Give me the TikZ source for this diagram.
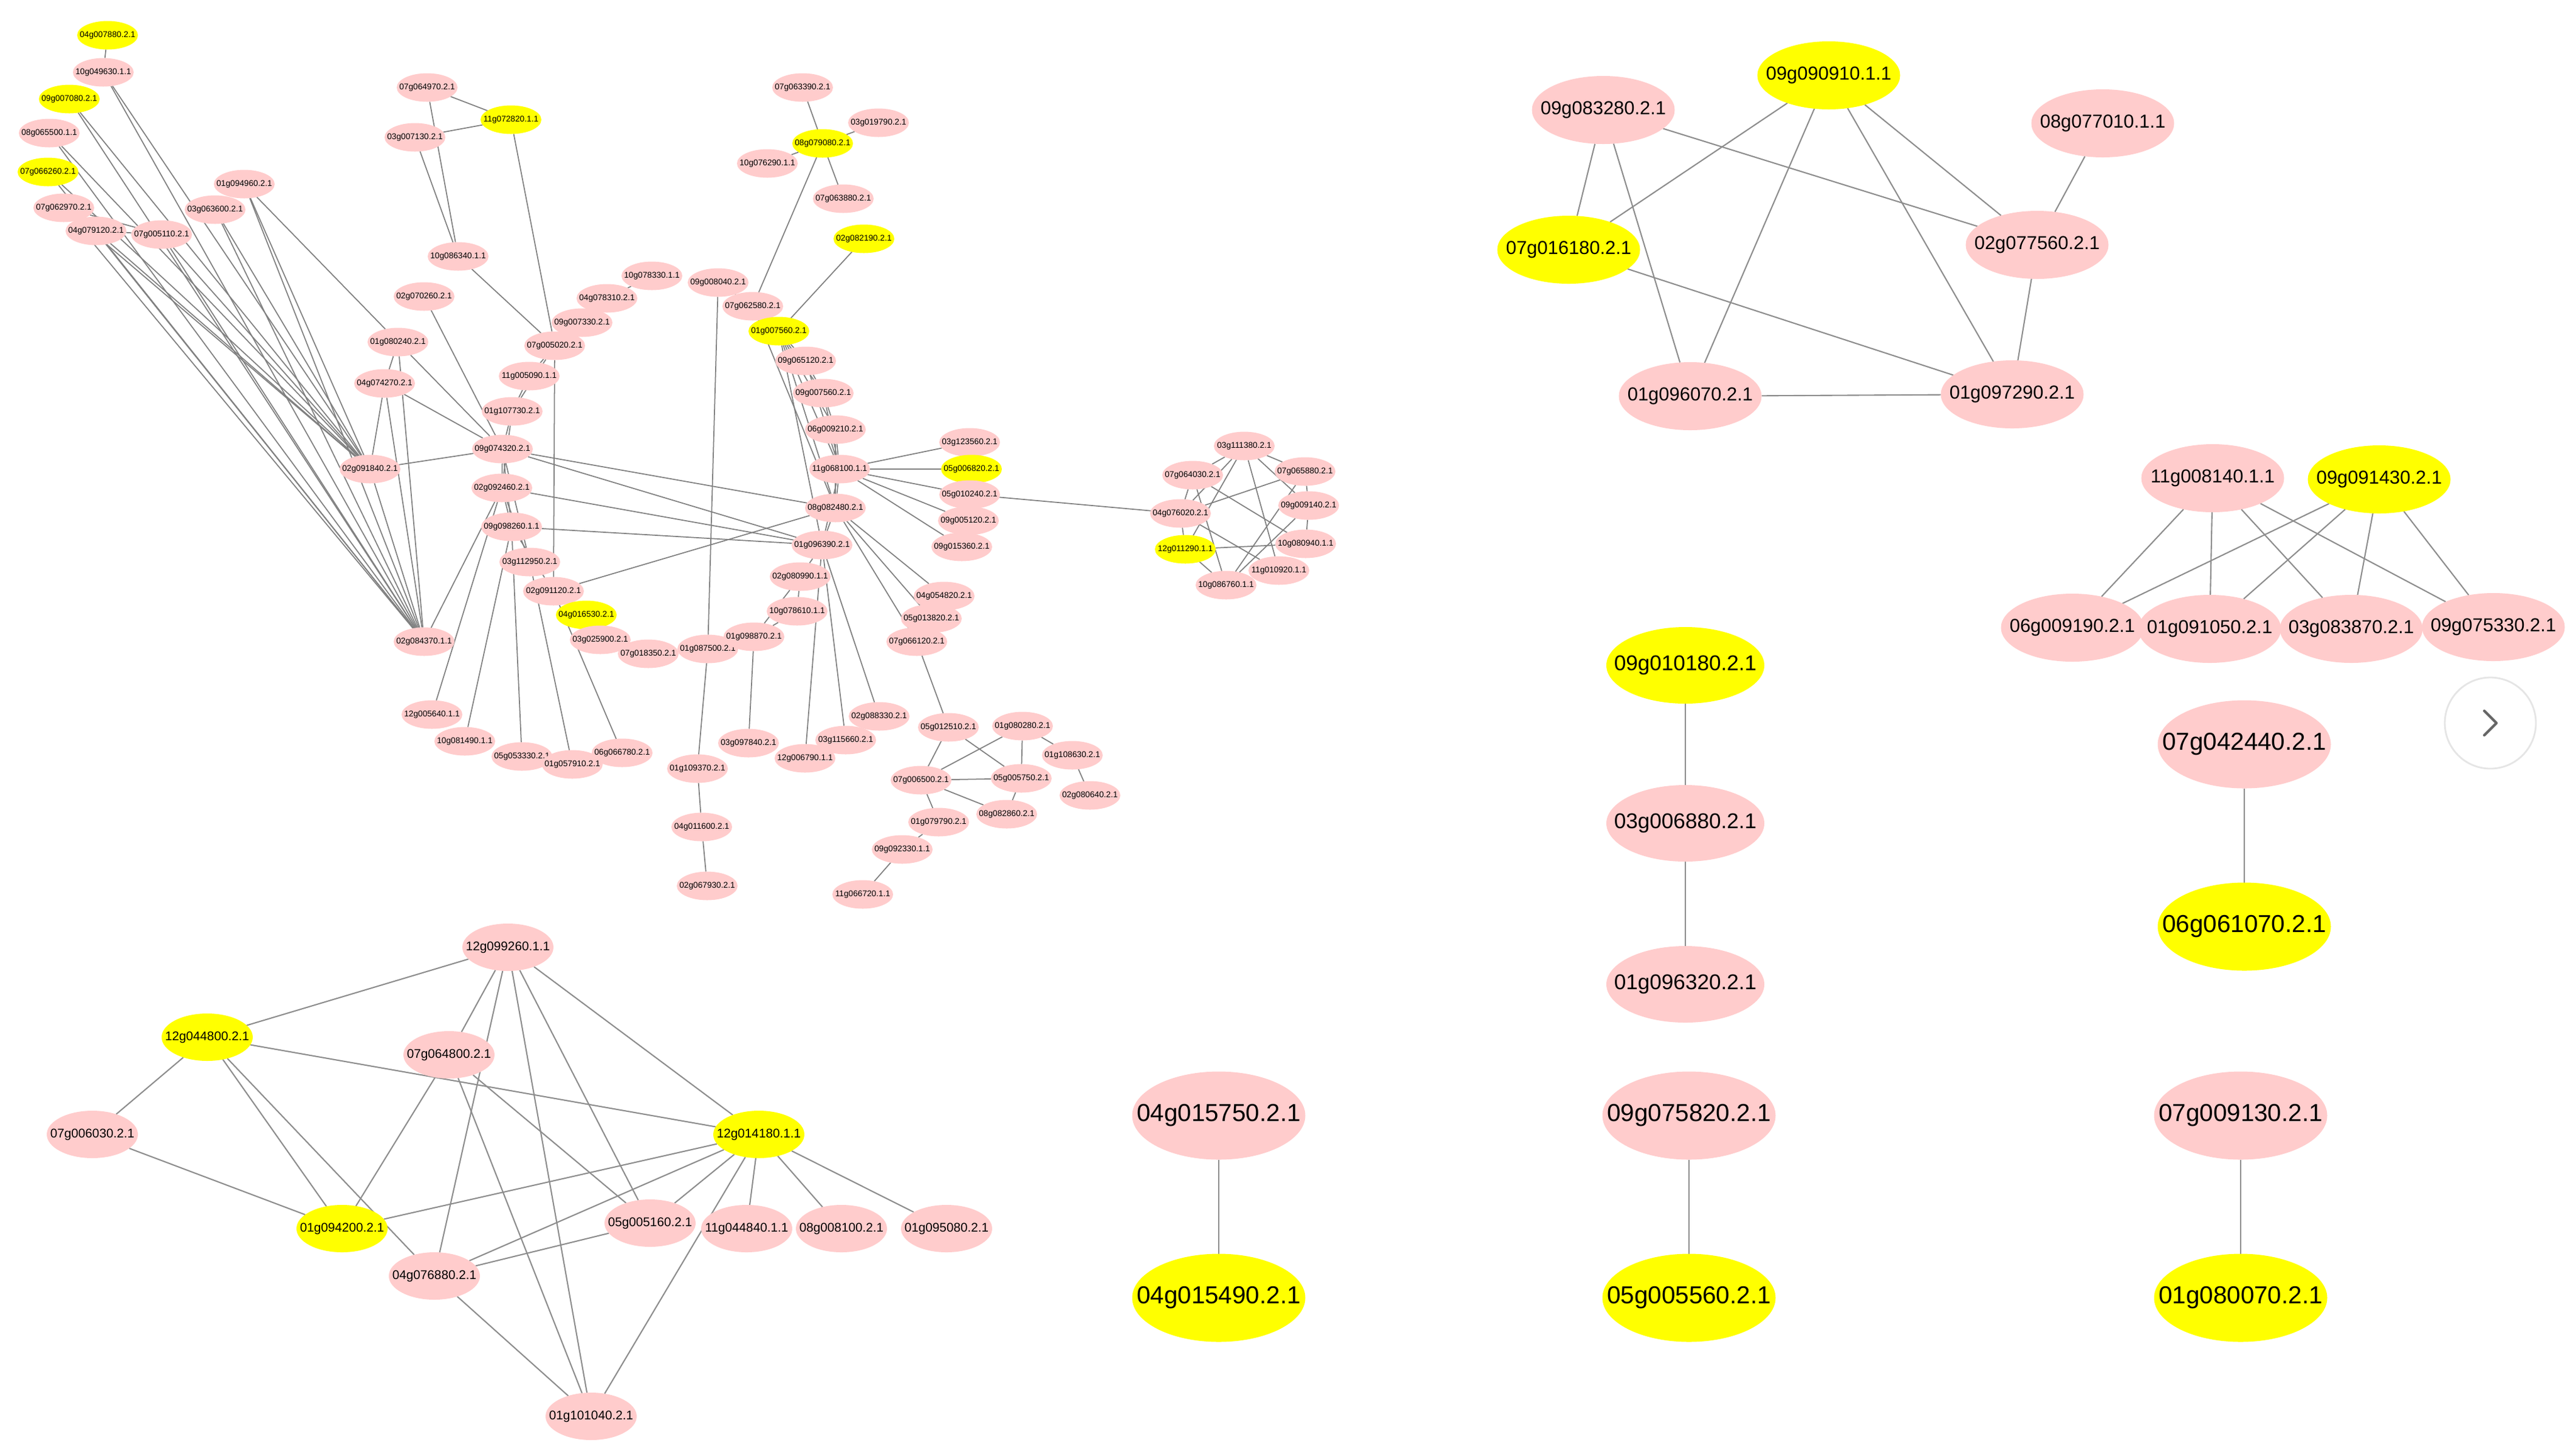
\documentclass[tikz,border=0pt]{standalone}
\usepackage{fontspec}
\setmainfont{Liberation Sans}
\usetikzlibrary{shapes.geometric,backgrounds}
\definecolor{pnk}{RGB}{255,204,204}
\definecolor{yel}{RGB}{255,255,0}
\definecolor{edg}{RGB}{128,128,128}

\begin{document}
\begin{tikzpicture}[
    gene/.style={ellipse, draw=none, fill=#1, inner xsep=-0.6cm, inner ysep=-0.1cm, outer sep=0pt},
    gene/.default=pnk,
    tn/.style={gene=#1, minimum width=1.0cm, minimum height=0.47cm, font=\fontsize{3.9}{4}\selectfont},
    tn/.default=pnk,
    ln/.style={gene=#1, minimum width=1.5cm, minimum height=0.78cm, font=\fontsize{5.9}{6}\selectfont},
    ln/.default=pnk,
    mn/.style={gene=#1, minimum width=2.35cm, minimum height=1.12cm, font=\fontsize{8.8}{9}\selectfont},
    mn/.default=pnk,
    bn/.style={gene=#1, minimum width=2.6cm, minimum height=1.26cm, font=\fontsize{10}{11}\selectfont},
    bn/.default=pnk,
    xn/.style={gene=#1, minimum width=2.85cm, minimum height=1.45cm, font=\fontsize{11.5}{12}\selectfont},
    xn/.default=pnk,
    edge/.style={draw=edg, line width=0.5pt},
    bigedge/.style={draw=edg!90, line width=0.6pt},
]
    \useasboundingbox (0,0) rectangle (42.4,-23.92);

    % Large network, upper left
    \node[tn=yel] (g04g007880) at (1.77,-0.58) {04g007880.2.1};
    \node[tn] (g10g049630) at (1.70,-1.19) {10g049630.1.1};
    \node[tn=yel] (g09g007080) at (1.14,-1.63) {09g007080.2.1};
    \node[tn] (g08g065500) at (0.81,-2.19) {08g065500.1.1};
    \node[tn=yel] (g07g066260) at (0.79,-2.83) {07g066260.2.1};
    \node[tn] (g07g062970) at (1.05,-3.42) {07g062970.2.1};
    \node[tn] (g04g079120) at (1.58,-3.80) {04g079120.2.1};
    \node[tn] (g07g005110) at (2.66,-3.86) {07g005110.2.1};
    \node[tn] (g03g063600) at (3.54,-3.45) {03g063600.2.1};
    \node[tn] (g01g094960) at (4.02,-3.03) {01g094960.2.1};
    \node[tn] (g07g064970) at (7.03,-1.44) {07g064970.2.1};
    \node[tn] (g03g007130) at (6.83,-2.26) {03g007130.2.1};
    \node[tn=yel] (g11g072820) at (8.41,-1.97) {11g072820.1.1};
    \node[tn] (g10g086340) at (7.54,-4.22) {10g086340.1.1};
    \node[tn] (g10g078330) at (10.73,-4.54) {10g078330.1.1};
    \node[tn] (g04g078310) at (9.99,-4.91) {04g078310.2.1};
    \node[tn] (g09g007330) at (9.58,-5.31) {09g007330.2.1};
    \node[tn] (g07g005020) at (9.13,-5.69) {07g005020.2.1};
    \node[tn] (g02g070260) at (6.98,-4.88) {02g070260.2.1};
    \node[tn] (g01g080240) at (6.55,-5.63) {01g080240.2.1};
    \node[tn] (g09g008040) at (11.82,-4.65) {09g008040.2.1};
    \node[tn] (g07g062580) at (12.39,-5.04) {07g062580.2.1};
    \node[tn=yel] (g01g007560) at (12.82,-5.45) {01g007560.2.1};
    \node[tn] (g07g063390) at (13.21,-1.44) {07g063390.2.1};
    \node[tn] (g03g019790) at (14.46,-2.02) {03g019790.2.1};
    \node[tn=yel] (g08g079080) at (13.54,-2.36) {08g079080.2.1};
    \node[tn] (g10g076290) at (12.63,-2.69) {10g076290.1.1};
    \node[tn] (g07g063880) at (13.88,-3.27) {07g063880.2.1};
    \node[tn=yel] (g02g082190) at (14.22,-3.93) {02g082190.2.1};
    \node[tn] (g04g074270) at (6.33,-6.31) {04g074270.2.1};
    \node[tn] (g11g005090) at (8.71,-6.19) {11g005090.1.1};
    \node[tn] (g01g107730) at (8.43,-6.77) {01g107730.2.1};
    \node[tn] (g09g074320) at (8.27,-7.39) {09g074320.2.1};
    \node[tn] (g02g091840) at (6.09,-7.72) {02g091840.2.1};
    \node[tn] (g02g092460) at (8.26,-8.03) {02g092460.2.1};
    \node[tn] (g09g098260) at (8.42,-8.67) {09g098260.1.1};
    \node[tn] (g03g112950) at (8.72,-9.25) {03g112950.2.1};
    \node[tn] (g02g091120) at (9.11,-9.73) {02g091120.2.1};
    \node[tn=yel] (g04g016530) at (9.65,-10.12) {04g016530.2.1};
    \node[tn] (g09g065120) at (13.26,-5.94) {09g065120.2.1};
    \node[tn] (g09g007560) at (13.55,-6.47) {09g007560.2.1};
    \node[tn] (g06g009210) at (13.75,-7.07) {06g009210.2.1};
    \node[tn] (g11g068100) at (13.82,-7.72) {11g068100.1.1};
    \node[tn] (g03g123560) at (15.96,-7.28) {03g123560.2.1};
    \node[tn=yel] (g05g006820) at (15.99,-7.72) {05g006820.2.1};
    \node[tn] (g05g010240) at (15.96,-8.14) {05g010240.2.1};
    \node[tn] (g09g005120) at (15.94,-8.57) {09g005120.2.1};
    \node[tn] (g09g015360) at (15.83,-9.00) {09g015360.2.1};
    \node[tn] (g08g082480) at (13.75,-8.36) {08g082480.2.1};
    \node[tn] (g01g096390) at (13.53,-8.97) {01g096390.2.1};
    \node[tn] (g02g080990) at (13.17,-9.49) {02g080990.1.1};
    \node[tn] (g10g078610) at (13.12,-10.06) {10g078610.1.1};
    \node[tn] (g04g054820) at (15.54,-9.81) {04g054820.2.1};
    \node[tn] (g05g013820) at (15.33,-10.18) {05g013820.2.1};
    \node[tn] (g03g025900) at (9.88,-10.53) {03g025900.2.1};
    \node[tn] (g07g018350) at (10.67,-10.76) {07g018350.2.1};
    \node[tn] (g01g087500) at (11.65,-10.68) {01g087500.2.1};
    \node[tn] (g01g098870) at (12.41,-10.48) {01g098870.2.1};
    \node[tn] (g02g084370) at (6.98,-10.56) {02g084370.1.1};
    \node[tn] (g12g005640) at (7.11,-11.76) {12g005640.1.1};
    \node[tn] (g10g081490) at (7.65,-12.20) {10g081490.1.1};
    \node[tn] (g05g053330) at (8.59,-12.45) {05g053330.2.1};
    \node[tn] (g06g066780) at (10.24,-12.39) {06g066780.2.1};
    \node[tn] (g01g057910) at (9.42,-12.58) {01g057910.2.1};
    \node[tn] (g01g109370) at (11.48,-12.65) {01g109370.2.1};
    \node[tn] (g04g011600) at (11.55,-13.61) {04g011600.2.1};
    \node[tn] (g02g067930) at (11.64,-14.58) {02g067930.2.1};
    \node[tn] (g03g097840) at (12.32,-12.23) {03g097840.2.1};
    \node[tn] (g07g066120) at (15.09,-10.56) {07g066120.2.1};
    \node[tn] (g02g088330) at (14.47,-11.79) {02g088330.2.1};
    \node[tn] (g03g115660) at (13.92,-12.18) {03g115660.2.1};
    \node[tn] (g12g006790) at (13.25,-12.48) {12g006790.1.1};
    \node[tn] (g05g012510) at (15.61,-11.97) {05g012510.2.1};
    \node[tn] (g01g080280) at (16.83,-11.95) {01g080280.2.1};
    \node[tn] (g01g108630) at (17.65,-12.43) {01g108630.2.1};
    \node[tn] (g07g006500) at (15.16,-12.84) {07g006500.2.1};
    \node[tn] (g05g005750) at (16.81,-12.81) {05g005750.2.1};
    \node[tn] (g02g080640) at (17.94,-13.09) {02g080640.2.1};
    \node[tn] (g08g082860) at (16.57,-13.40) {08g082860.2.1};
    \node[tn] (g01g079790) at (15.45,-13.53) {01g079790.2.1};
    \node[tn] (g09g092330) at (14.85,-13.98) {09g092330.1.1};
    \node[tn] (g11g066720) at (14.20,-14.72) {11g066720.1.1};

    % Ring on the right of the large network
    \node[tn] (g03g111380) at (20.48,-7.34) {03g111380.2.1};
    \node[tn] (g07g064030) at (19.63,-7.82) {07g064030.2.1};
    \node[tn] (g07g065880) at (21.48,-7.76) {07g065880.2.1};
    \node[tn] (g04g076020) at (19.43,-8.45) {04g076020.2.1};
    \node[tn] (g09g009140) at (21.54,-8.32) {09g009140.2.1};
    \node[tn=yel] (g12g011290) at (19.51,-9.04) {12g011290.1.1};
    \node[tn] (g10g080940) at (21.49,-8.95) {10g080940.1.1};
    \node[tn] (g11g010920) at (21.05,-9.39) {11g010920.1.1};
    \node[tn] (g10g086760) at (20.18,-9.63) {10g086760.1.1};

    % Network, lower left
    \node[ln] (g12g099260) at (8.36,-15.59) {12g099260.1.1};
    \node[ln=yel] (g12g044800) at (3.41,-17.07) {12g044800.2.1};
    \node[ln] (g07g064800) at (7.39,-17.36) {07g064800.2.1};
    \node[ln] (g07g006030) at (1.52,-18.67) {07g006030.2.1};
    \node[ln=yel] (g12g014180) at (12.49,-18.67) {12g014180.1.1};
    \node[ln=yel] (g01g094200) at (5.63,-20.22) {01g094200.2.1};
    \node[ln] (g05g005160) at (10.70,-20.13) {05g005160.2.1};
    \node[ln] (g11g044840) at (12.29,-20.22) {11g044840.1.1};
    \node[ln] (g08g008100) at (13.85,-20.22) {08g008100.2.1};
    \node[ln] (g01g095080) at (15.58,-20.22) {01g095080.2.1};
    \node[ln] (g04g076880) at (7.15,-21.00) {04g076880.2.1};
    \node[ln] (g01g101040) at (9.73,-23.31) {01g101040.2.1};

    % Network, upper right
    \node[mn] (g09g083280) at (26.39,-1.81) {09g083280.2.1};
    \node[mn=yel] (g09g090910) at (30.10,-1.24) {09g090910.1.1};
    \node[mn] (g08g077010) at (34.61,-2.03) {08g077010.1.1};
    \node[mn=yel] (g07g016180) at (25.82,-4.11) {07g016180.2.1};
    \node[mn] (g02g077560) at (33.53,-4.03) {02g077560.2.1};
    \node[mn] (g01g096070) at (27.82,-6.52) {01g096070.2.1};
    \node[mn] (g01g097290) at (33.12,-6.49) {01g097290.2.1};

    % Two rows
    \node[mn] (g11g008140) at (36.42,-7.87) {11g008140.1.1};
    \node[mn=yel] (g09g091430) at (39.16,-7.89) {09g091430.2.1};
    \node[mn] (g06g009190) at (34.11,-10.33) {06g009190.2.1};
    \node[mn] (g01g091050) at (36.37,-10.35) {01g091050.2.1};
    \node[mn] (g03g083870) at (38.70,-10.35) {03g083870.2.1};
    \node[mn] (g09g075330) at (41.04,-10.32) {09g075330.2.1};

    % Chains and pairs
    \node[bn=yel] (g09g010180) at (27.74,-10.95) {09g010180.2.1};
    \node[bn] (g03g006880) at (27.74,-13.55) {03g006880.2.1};
    \node[bn] (g01g096320) at (27.74,-16.20) {01g096320.2.1};
    \node[xn] (g07g042440) at (36.94,-12.25) {07g042440.2.1};
    \node[xn=yel] (g06g061070) at (36.94,-15.25) {06g061070.2.1};
    \node[xn] (g04g015750) at (20.06,-18.36) {04g015750.2.1};
    \node[xn=yel] (g04g015490) at (20.06,-21.36) {04g015490.2.1};
    \node[xn] (g09g075820) at (27.80,-18.36) {09g075820.2.1};
    \node[xn=yel] (g05g005560) at (27.80,-21.36) {05g005560.2.1};
    \node[xn] (g07g009130) at (36.88,-18.36) {07g009130.2.1};
    \node[xn=yel] (g01g080070) at (36.88,-21.36) {01g080070.2.1};

    % Page button
    \node[circle, draw=gray!20, line width=0.8pt, fill=white, minimum size=1.5cm] (btn) at (40.99,-11.90) {};
    \draw[gray!80!black, line width=1.2pt, line cap=round, line join=round]
        ([xshift=-0.1cm, yshift=0.2cm]btn.center) -- ([xshift=0.1cm]btn.center) -- ([xshift=-0.1cm, yshift=-0.2cm]btn.center);

    % Edges
    \begin{scope}[on background layer]
        \foreach \a/\b in {04g007880/10g049630,
            10g049630/02g091840, 09g007080/02g091840, 08g065500/02g091840, 07g066260/02g091840,
            07g062970/02g091840, 04g079120/02g091840, 07g005110/02g091840, 03g063600/02g091840,
            10g049630/02g084370, 09g007080/02g084370, 08g065500/02g084370, 07g066260/02g084370,
            07g062970/02g084370, 04g079120/02g084370, 07g005110/02g084370, 03g063600/02g084370,
            01g094960/02g084370, 01g094960/02g091840, 01g094960/01g080240,
            04g079120/07g005110, 07g062970/07g005110,
            07g064970/11g072820, 07g064970/10g086340, 03g007130/11g072820, 03g007130/10g086340,
            11g072820/07g005020, 10g086340/07g005020, 02g070260/09g074320,
            01g080240/04g074270, 01g080240/02g084370, 01g080240/09g074320,
            04g074270/02g091840, 04g074270/02g084370, 04g074270/09g074320,
            02g091840/09g074320, 02g091840/02g084370,
            07g005020/11g005090, 07g005020/01g107730, 07g005020/02g091120,
            09g007330/07g005020, 04g078310/09g007330, 10g078330/04g078310,
            11g005090/01g107730, 01g107730/09g074320, 01g107730/02g092460,
            09g074320/02g092460, 09g074320/09g098260, 09g074320/03g112950,
            09g074320/08g082480, 09g074320/01g096390,
            02g092460/09g098260, 02g092460/03g112950, 02g092460/02g084370,
            02g092460/01g096390, 02g092460/12g005640,
            09g098260/01g096390, 09g098260/10g081490, 09g098260/05g053330,
            09g098260/02g091120, 03g112950/01g057910, 02g091120/06g066780,
            02g091120/08g082480, 04g016530/03g025900,
            09g008040/01g087500, 01g087500/01g109370, 01g109370/04g011600, 04g011600/02g067930,
            01g098870/03g097840, 01g098870/10g078610, 01g098870/02g080990, 02g080990/10g078610,
            08g079080/07g063390, 08g079080/03g019790, 08g079080/10g076290, 08g079080/07g063880,
            08g079080/07g062580, 02g082190/01g007560, 07g062580/09g008040, 07g062580/08g082480,
            01g007560/09g065120, 01g007560/09g007560, 01g007560/06g009210, 01g007560/11g068100,
            01g007560/08g082480, 01g007560/01g096390,
            09g065120/09g007560, 09g065120/11g068100, 09g007560/06g009210, 09g007560/11g068100,
            06g009210/11g068100, 06g009210/08g082480,
            11g068100/03g123560, 11g068100/05g006820, 11g068100/05g010240, 11g068100/09g005120,
            11g068100/09g015360, 11g068100/08g082480, 11g068100/01g096390,
            05g010240/04g076020,
            08g082480/04g054820, 08g082480/05g013820, 08g082480/07g066120, 08g082480/01g096390,
            01g096390/02g080990, 01g096390/12g006790, 01g096390/03g115660, 01g096390/02g088330,
            07g066120/05g012510,
            05g012510/07g006500, 05g012510/05g005750, 01g080280/07g006500, 01g080280/05g005750,
            01g080280/01g108630, 01g108630/02g080640, 07g006500/05g005750, 07g006500/08g082860,
            07g006500/01g079790, 05g005750/08g082860, 01g079790/09g092330, 09g092330/11g066720,
            03g111380/07g064030, 03g111380/07g065880, 03g111380/04g076020, 03g111380/11g010920,
            03g111380/09g009140, 03g111380/12g011290,
            07g064030/04g076020, 07g064030/10g086760, 07g064030/10g080940,
            07g065880/04g076020, 07g065880/09g009140, 07g065880/10g086760,
            04g076020/12g011290, 04g076020/11g010920,
            09g009140/10g080940, 09g009140/10g086760,
            12g011290/10g080940, 12g011290/10g086760}
            \draw[edge] (g\a) -- (g\b);
        \foreach \a/\b in {12g099260/12g044800, 12g099260/07g064800, 12g099260/04g076880, 12g099260/01g101040,
            12g099260/05g005160, 12g099260/12g014180,
            12g044800/07g006030, 12g044800/01g094200, 12g044800/04g076880, 12g044800/12g014180,
            07g006030/01g094200, 07g064800/01g094200, 07g064800/01g101040, 07g064800/05g005160,
            12g014180/01g094200, 12g014180/04g076880, 12g014180/05g005160, 12g014180/11g044840,
            12g014180/08g008100, 12g014180/01g095080, 12g014180/01g101040,
            04g076880/05g005160, 04g076880/01g101040,
            09g083280/07g016180, 09g083280/01g096070, 09g083280/02g077560,
            09g090910/07g016180, 09g090910/01g096070, 09g090910/02g077560, 09g090910/01g097290,
            08g077010/02g077560, 07g016180/01g097290, 02g077560/01g097290, 01g096070/01g097290,
            11g008140/06g009190, 11g008140/01g091050, 11g008140/03g083870, 11g008140/09g075330,
            09g091430/06g009190, 09g091430/01g091050, 09g091430/03g083870, 09g091430/09g075330,
            09g010180/03g006880, 03g006880/01g096320, 07g042440/06g061070,
            04g015750/04g015490, 09g075820/05g005560, 07g009130/01g080070}
            \draw[bigedge] (g\a) -- (g\b);
    \end{scope}
\end{tikzpicture}
\end{document}
